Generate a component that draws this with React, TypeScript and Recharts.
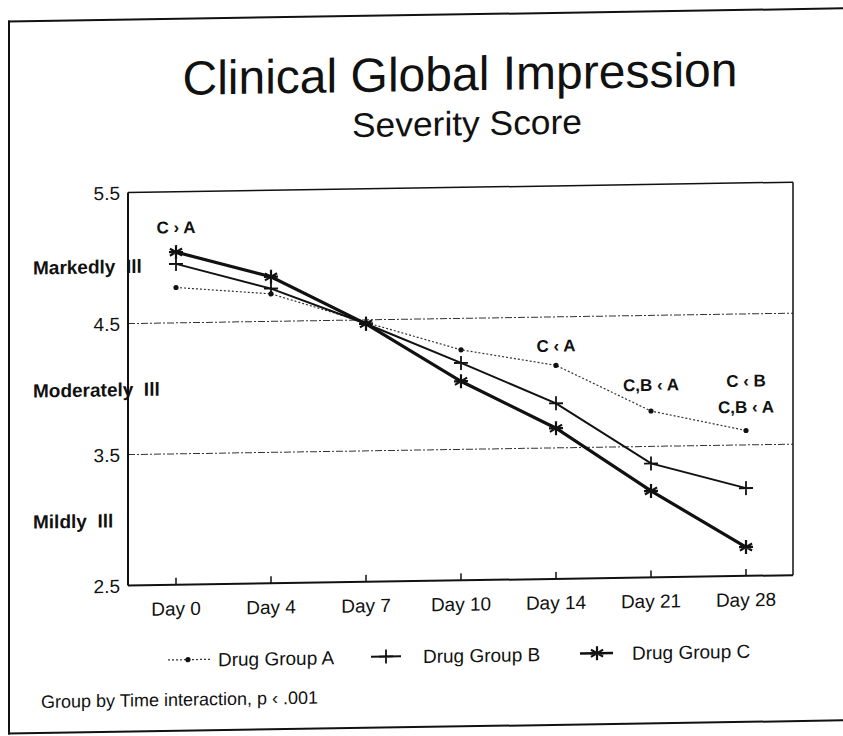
import React from "react";
import { LineChart, Line, XAxis, YAxis, ReferenceLine, ReferenceDot } from "recharts";

const days = ["Day 0", "Day 4", "Day 7", "Day 10", "Day 14", "Day 21", "Day 28"];
const groupA = [4.77, 4.71, 4.48, 4.26, 4.13, 3.77, 3.61];
const groupB = [4.95, 4.75, 4.47, 4.16, 3.84, 3.37, 3.17];
const groupC = [5.04, 4.84, 4.47, 4.02, 3.65, 3.16, 2.72];

const yTicks = [2.5, 3, 3.5, 4, 4.5, 4.94, 5.5];
const severityValues = [3, 4, 4.94];
const severityLabels = ["Mildly  Ill", "Moderately  Ill", "Markedly  Ill"];
const gridValues = [4.5, 3.5];

const noteDays = ["Day 0", "Day 14", "Day 21", "Day 28", "Day 28"];
const noteValues = [5.23, 4.28, 3.97, 3.99, 3.79];
const noteTexts = ["C \u203A A", "C \u2039 A", "C,B \u2039 A", "C \u2039 B", "C,B \u2039 A"];

const legendNames = ["Drug Group A", "Drug Group B", "Drug Group C"];

const FONT = "'Liberation Sans', Arial, Helvetica, sans-serif";

const data = days.map((day, i) => ({ day, a: groupA[i], b: groupB[i], c: groupC[i] }));

function SmallDot({ cx, cy }: { cx: number; cy: number }) {
  return <circle cx={cx} cy={cy} r={2.6} fill="#111" />;
}

function CrossMark({ cx, cy }: { cx: number; cy: number }) {
  const s = 7;
  return (
    <path
      d={`M${cx - s},${cy}L${cx + s},${cy}M${cx},${cy - s}L${cx},${cy + s}`}
      stroke="#111"
      strokeWidth={1.8}
      fill="none"
    />
  );
}

function StarMark({ cx, cy }: { cx: number; cy: number }) {
  const s = 7;
  const d = [90, 30, 150, 0]
    .map((deg) => {
      const r = (deg * Math.PI) / 180;
      const dx = Math.cos(r) * s;
      const dy = Math.sin(r) * s;
      return `M${cx - dx},${cy - dy}L${cx + dx},${cy + dy}`;
    })
    .join("");
  return <path d={d} stroke="#111" strokeWidth={2.2} fill="none" />;
}

function SeverityTick(props: any) {
  const { x, y, payload } = props;
  const idx = severityValues.indexOf(payload.value);
  if (idx >= 0) {
    return (
      <text
        x={33}
        y={y}
        dy={7}
        fontFamily={FONT}
        fontSize={19}
        fontWeight="bold"
        fill="#111"
        style={{ whiteSpace: "pre" }}
      >
        {severityLabels[idx]}
      </text>
    );
  }
  return (
    <text x={x} y={y} dy={7} textAnchor="end" fontFamily={FONT} fontSize={19} fill="#111">
      {payload.value.toFixed(1)}
    </text>
  );
}

export default function App() {
  return (
    <div
      style={{
        position: "absolute",
        left: 0,
        top: 0,
        width: 843,
        height: 736,
        background: "#fff",
        overflow: "hidden",
      }}
    >
      <div
        style={{
          position: "absolute",
          left: 0,
          top: 0,
          width: 843,
          height: 736,
          transform: "skewY(-0.9deg)",
          transformOrigin: "421px 368px",
        }}
      >
        <div
          style={{
            position: "absolute",
            left: 8,
            top: 14,
            width: 840,
            height: 710,
            borderLeft: "2px solid #111",
            borderTop: "2px solid #111",
            borderBottom: "2px solid #111",
          }}
        />
        <div style={{ position: "absolute", left: 0, top: 0 }}>
          <LineChart
            width={843}
            height={736}
            data={data}
            margin={{ top: 187, right: 49, bottom: 95, left: 0 }}
          >
            <XAxis
              dataKey="day"
              height={60}
              padding={{ left: 48, right: 47 }}
              axisLine={{ stroke: "#111", strokeWidth: 2 }}
              tickLine={{ stroke: "#111", strokeWidth: 1.5 }}
              tickSize={-7}
              tickMargin={24}
              tick={{ fill: "#111", fontSize: 19, fontFamily: FONT }}
              interval={0}
            />
            <XAxis
              xAxisId="top"
              dataKey="day"
              orientation="top"
              height={1}
              tick={false}
              tickLine={false}
              axisLine={{ stroke: "#111", strokeWidth: 1.5 }}
            />
            <YAxis
              type="number"
              domain={[2.5, 5.5]}
              ticks={yTicks}
              width={128}
              interval={0}
              axisLine={{ stroke: "#111", strokeWidth: 2 }}
              tickLine={false}
              tick={<SeverityTick />}
            />
            <YAxis
              yAxisId="right"
              orientation="right"
              type="number"
              domain={[2.5, 5.5]}
              width={1}
              tick={false}
              tickLine={false}
              axisLine={{ stroke: "#111", strokeWidth: 1.5 }}
            />
            {gridValues.map((v) => (
              <ReferenceLine
                key={v}
                y={v}
                stroke="#333"
                strokeWidth={1}
                strokeDasharray="7 2 2 2"
              />
            ))}
            <Line
              dataKey="a"
              stroke="#333"
              strokeWidth={1.2}
              strokeDasharray="2 2"
              isAnimationActive={false}
              dot={(p: any) => <SmallDot key={`a${p.index}`} cx={p.cx} cy={p.cy} />}
            />
            <Line
              dataKey="b"
              stroke="#111"
              strokeWidth={2}
              isAnimationActive={false}
              dot={(p: any) => <CrossMark key={`b${p.index}`} cx={p.cx} cy={p.cy} />}
            />
            <Line
              dataKey="c"
              stroke="#111"
              strokeWidth={3.2}
              isAnimationActive={false}
              dot={(p: any) => <StarMark key={`c${p.index}`} cx={p.cx} cy={p.cy} />}
            />
            {noteTexts.map((t, i) => (
              <ReferenceDot
                key={i}
                x={noteDays[i]}
                y={noteValues[i]}
                r={0}
                fill="none"
                stroke="none"
                label={{
                  value: t,
                  position: "center",
                  fill: "#111",
                  fontSize: 17,
                  fontWeight: "bold",
                  fontFamily: FONT,
                }}
              />
            ))}
          </LineChart>
        </div>
        <svg
          width={843}
          height={736}
          style={{ position: "absolute", left: 0, top: 0, pointerEvents: "none" }}
        >
          <text
            x={460}
            y={91}
            textAnchor="middle"
            fontFamily={FONT}
            fontSize={48}
            textLength={555}
            lengthAdjust="spacingAndGlyphs"
            fill="#111"
          >
            Clinical Global Impression
          </text>
          <text
            x={467}
            y={136}
            textAnchor="middle"
            fontFamily={FONT}
            fontSize={34}
            textLength={230}
            lengthAdjust="spacingAndGlyphs"
            fill="#111"
          >
            Severity Score
          </text>

          {/* legend */}
          <line x1={168} x2={212} y1={656} y2={656} stroke="#333" strokeWidth={1.2} strokeDasharray="2 2" />
          <SmallDot cx={188} cy={656} />
          <text x={218} y={663} fontFamily={FONT} fontSize={19} fill="#111">
            {legendNames[0]}
          </text>
          <line x1={371} x2={401} y1={656} y2={656} stroke="#111" strokeWidth={2} />
          <CrossMark cx={386} cy={656} />
          <text x={423} y={663} fontFamily={FONT} fontSize={19} fill="#111">
            {legendNames[1]}
          </text>
          <line x1={580} x2={613} y1={656} y2={656} stroke="#111" strokeWidth={2.4} />
          <StarMark cx={597} cy={656} />
          <text x={632} y={663} fontFamily={FONT} fontSize={19} fill="#111">
            {legendNames[2]}
          </text>

          <text x={41} y={702} fontFamily={FONT} fontSize={18} fill="#111">
            Group by Time interaction, p {"\u2039"} .001
          </text>
        </svg>
      </div>
    </div>
  );
}
